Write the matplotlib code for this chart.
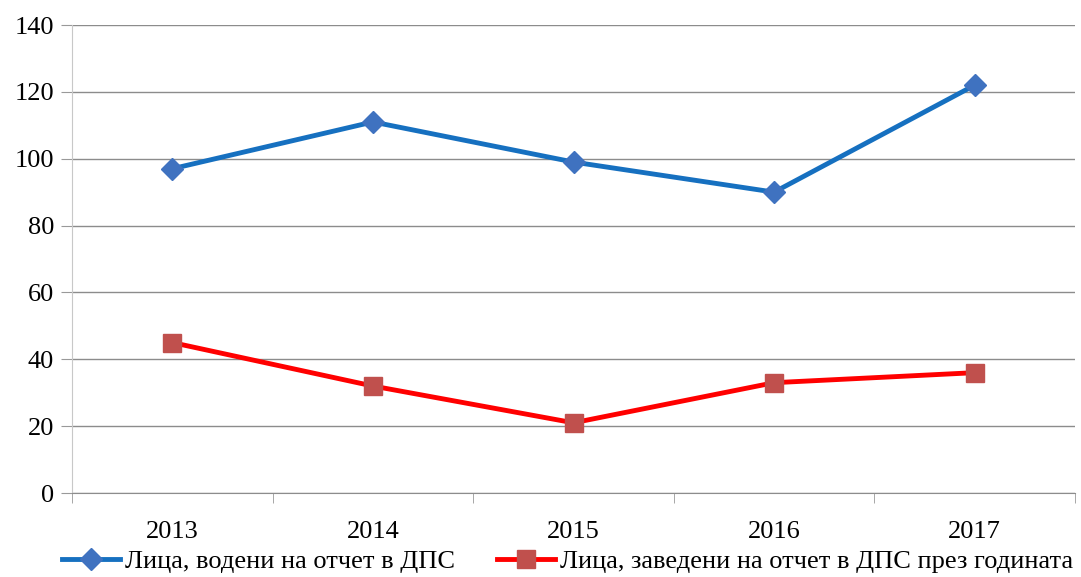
import matplotlib.pyplot as plt
import numpy as np

years = ["2013", "2014", "2015", "2016", "2017"]
kept = [97, 111, 99, 90, 122]
added = [45, 32, 21, 33, 36]
label_kept = "Лица, водени на отчет в ДПС"
label_added = "Лица, заведени на отчет в ДПС през годината"

plt.rcParams["font.family"] = ["Liberation Serif", "DejaVu Serif"]

fig = plt.figure(figsize=(10.81, 5.77), dpi=100)
ax = fig.add_axes([72 / 1081, 1 - 493 / 577, 1003 / 1081, 468 / 577])

x = np.arange(len(years))
ax.plot(x, kept, color="#1670C0", lw=3.5, marker="D", ms=11,
        mfc="#3F72C0", mec="#3F72C0", label=label_kept)
ax.plot(x, added, color="#FF0000", lw=3.5, marker="s", ms=13,
        mfc="#C0504D", mec="#C0504D", label=label_added)

ax.set_xlim(-0.5, len(years) - 0.5)
ax.set_ylim(0, 140)
ax.set_yticks(range(0, 141, 20))
ax.set_xticks(x)
ax.set_xticklabels(years)
ax.set_xticks(np.arange(-0.5, len(years)), minor=True)
ax.tick_params(axis="x", which="major", length=0, pad=20, labelsize=19)
ax.tick_params(axis="x", which="minor", length=7, color="#999999", direction="out")
ax.tick_params(axis="y", length=8, color="#999999", labelsize=19, pad=5)
ax.grid(axis="y", color="#8c8c8c", lw=1)
ax.set_axisbelow(True)
for s in ["top", "right"]:
    ax.spines[s].set_visible(False)
ax.spines["left"].set_color("#c8c8c8")
ax.spines["bottom"].set_color("#8c8c8c")

fig.legend(loc="lower center", bbox_to_anchor=(0.525, -0.035), ncol=2,
           frameon=False, fontsize=19, handlelength=2.2, columnspacing=1.6,
           handletextpad=0.2)

fig.savefig("out.png", dpi=100)
